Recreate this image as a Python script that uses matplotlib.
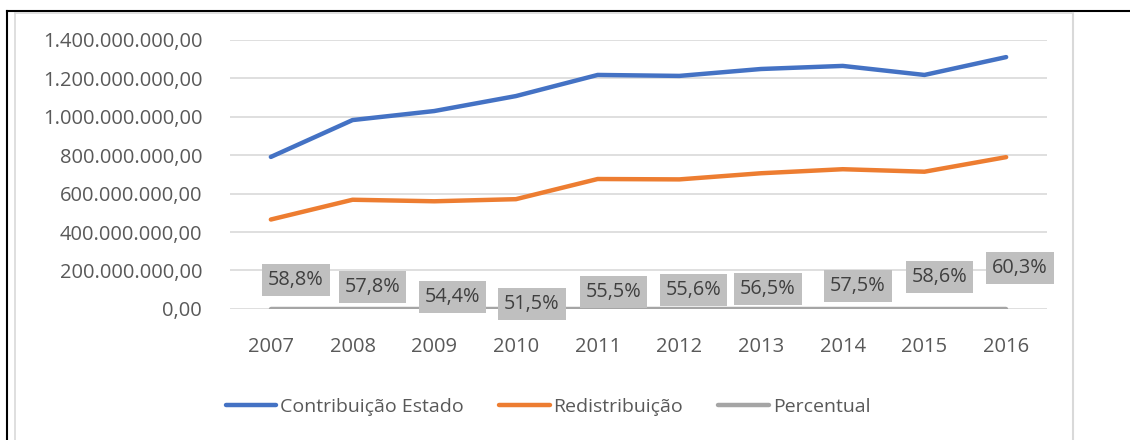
import matplotlib
matplotlib.use("Agg")
import matplotlib.pyplot as plt
from matplotlib.lines import Line2D
import numpy as np

years = ["2007", "2008", "2009", "2010", "2011", "2012", "2013", "2014", "2015", "2016"]
contribuicao = [791e6, 983e6, 1030e6, 1108e6, 1218e6, 1213e6, 1249e6, 1265e6, 1218e6, 1311e6]
redistribuicao = [465e6, 568e6, 560e6, 571e6, 676e6, 674e6, 706e6, 727e6, 714e6, 790e6]
percentual = [0.588, 0.578, 0.544, 0.515, 0.555, 0.556, 0.565, 0.575, 0.586, 0.603]
series_names = ["Contribuição Estado", "Redistribuição", "Percentual"]

# label placement (pixels, relative to the point) - layout only
label_offsets = [(25, 29), (20, 22), (18, 12), (16, 5), (16, 17),
                 (14, 19), (7, 20), (15, 23), (15, 32), (14, 41)]

plt.rcParams['font.family'] = ['Open Sans', 'DejaVu Sans']

W, H = 1130, 440
fig = plt.figure(figsize=(W / 100, H / 100), dpi=100)

def fx(px):
    return px / W

def fy(py):
    return 1 - py / H

ax = fig.add_axes([fx(230), fy(308.8), fx(1047) - fx(230), fy(40) - fy(308.8)])

x = np.arange(len(years))
blue, orange, gray = "#4472C4", "#ED7D31", "#A5A5A5"
ax.plot(x, contribuicao, color=blue, lw=3.2, solid_capstyle='round', label=series_names[0], zorder=3)
ax.plot(x, redistribuicao, color=orange, lw=3.2, solid_capstyle='round', label=series_names[1], zorder=3)
ax.plot(x, percentual, color=gray, lw=3.2, solid_capstyle='round', label=series_names[2], zorder=3)

ax.set_xlim(-0.5, len(years) - 0.5)
ax.set_ylim(0, 1.4e9)
ticks = np.arange(0, 1.4e9 + 1, 2e8)
ax.set_yticks(ticks)

def br(v):
    s = f"{v:,.2f}"
    return s.replace(",", "X").replace(".", ",").replace("X", ".")

ax.set_yticklabels([br(t) for t in ticks])
ax.set_xticks(x)
ax.set_xticklabels(years)
ax.tick_params(axis='both', length=0, colors="#595959", labelsize=14.5)
ax.tick_params(axis='y', pad=20)
ax.tick_params(axis='x', pad=20)
ax.grid(axis='y', color="#D9D9D9", lw=1.2, zorder=0)
ax.set_axisbelow(True)
for s in ax.spines.values():
    s.set_visible(False)

for i, p in enumerate(percentual):
    lbl = f"{p * 100:.1f}%".replace(".", ",")
    ox, oy = label_offsets[i]
    ax.annotate(lbl, (x[i], p), xytext=(ox, oy), textcoords='offset pixels',
                ha='center', va='center', fontsize=14.3, color="#404040", zorder=5,
                bbox=dict(boxstyle='square,pad=0.3', fc="#BFBFBF", ec='none'))

leg = fig.legend(loc='center', bbox_to_anchor=(fx(548), fy(407)), ncol=3, frameon=False,
                 fontsize=14, handlelength=2.6, handletextpad=0.2, columnspacing=1.8)
for t in leg.get_texts():
    t.set_color("#595959")

# frames
fig.add_artist(Line2D([fx(7), 1], [fy(11.5), fy(11.5)], color='black', lw=1.5, transform=fig.transFigure))
fig.add_artist(Line2D([fx(7), fx(7)], [0, fy(11.5)], color='black', lw=1.5, transform=fig.transFigure))
fig.add_artist(Line2D([fx(15), fx(1073)], [fy(13.5), fy(13.5)], color='#D9D9D9', lw=1.2, transform=fig.transFigure))
fig.add_artist(Line2D([fx(15), fx(15)], [0, fy(13.5)], color='#D9D9D9', lw=1.2, transform=fig.transFigure))
fig.add_artist(Line2D([fx(1073), fx(1073)], [0, fy(13.5)], color='#D9D9D9', lw=1.5, transform=fig.transFigure))

fig.savefig("out.png", dpi=100)
